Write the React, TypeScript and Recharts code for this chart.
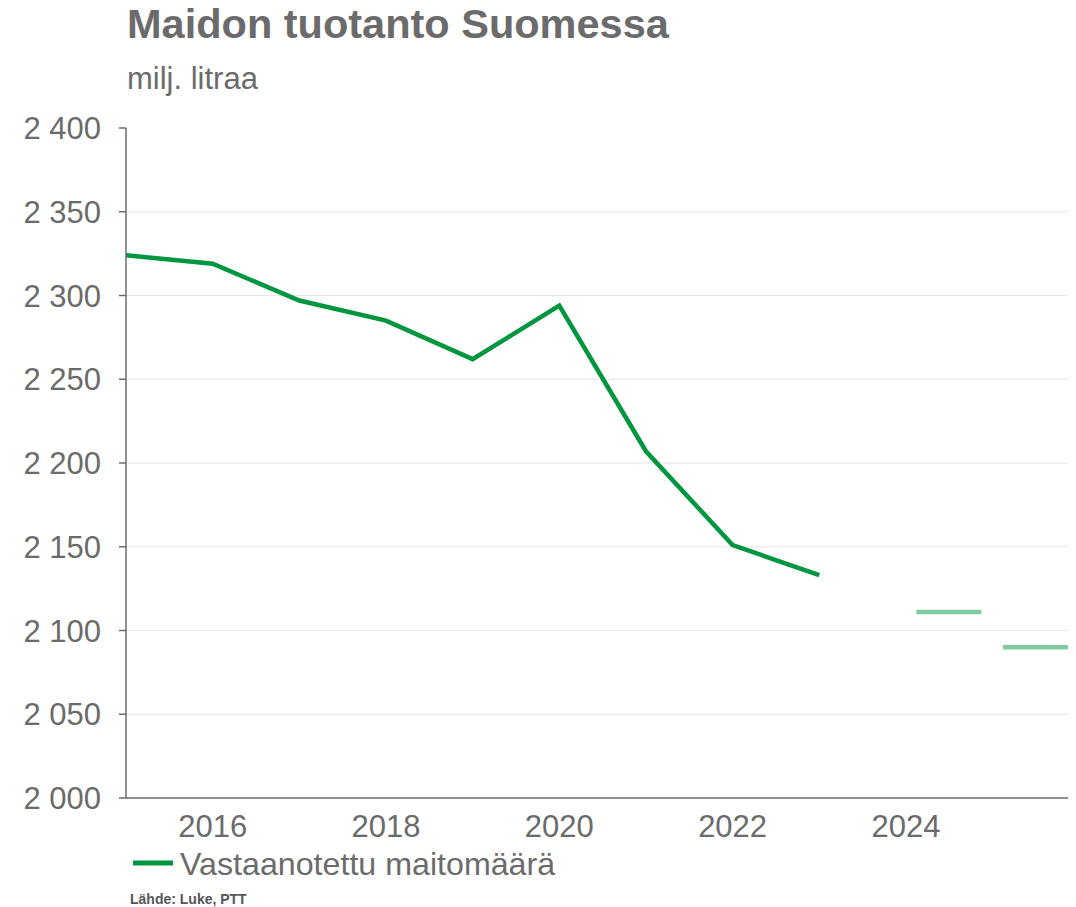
import React from "react";
import { LineChart, Line, XAxis, YAxis, CartesianGrid, ReferenceLine } from "recharts";

const years = [2015, 2016, 2017, 2018, 2019, 2020, 2021, 2022, 2023];
const milkVolume = [2324, 2319, 2297, 2285, 2262, 2294, 2207, 2151, 2133];
const forecastYears = [2024, 2025];
const forecastValues = [2111, 2090];
const xTicks = [2016, 2018, 2020, 2022, 2024];
const yTicks = [2000, 2050, 2100, 2150, 2200, 2250, 2300, 2350, 2400];
const gridValues = [2050, 2100, 2150, 2200, 2250, 2300, 2350];

const title = "Maidon tuotanto Suomessa";
const subtitle = "milj. litraa";
const seriesName = "Vastaanotettu maitomäärä";
const source = "Lähde: Luke, PTT";

const data = years.map((y, i) => ({ year: y, value: milkVolume[i] }));

const FONT = "'Liberation Sans', Arial, Helvetica, sans-serif";
const GRAY = "#6b6b6b";
const GREEN = "#00963f";
const LIGHT_GREEN = "#80caa0";

const fmt = (v: number) => `${Math.floor(v / 1000)} ${String(v % 1000).padStart(3, "0")}`;

export default function App() {
  return (
    <div style={{ position: "absolute", left: 0, top: 0, width: 1076, height: 907, background: "#fff", fontFamily: FONT }}>
      <LineChart
        width={1076}
        height={907}
        data={data}
        margin={{ top: 128, right: 8, left: 26, bottom: 69 }}
      >
        <CartesianGrid horizontal vertical={false} horizontalValues={gridValues} stroke="#e6e6e6" strokeWidth={1.2} />
        <XAxis
          dataKey="year"
          type="number"
          domain={[2015, 2025.87]}
          ticks={xTicks}
          allowDataOverflow
          height={40}
          tickSize={0}
          tickMargin={17}
          axisLine={{ stroke: GRAY, strokeWidth: 1.5 }}
          tick={{ fill: GRAY, fontSize: 31, fontFamily: FONT }}
        />
        <YAxis
          type="number"
          domain={[2000, 2400]}
          ticks={yTicks}
          width={100}
          tickSize={7}
          tickMargin={18}
          tickFormatter={fmt}
          axisLine={{ stroke: GRAY, strokeWidth: 1.5 }}
          tickLine={{ stroke: GRAY, strokeWidth: 1.5 }}
          tick={{ fill: GRAY, fontSize: 31, fontFamily: FONT }}
          interval={0}
        />
        <Line
          type="linear"
          dataKey="value"
          stroke={GREEN}
          strokeWidth={4.5}
          dot={false}
          activeDot={false}
          isAnimationActive={false}
        />
        {forecastYears.map((fy, i) => (
          <ReferenceLine
            key={fy}
            segment={[
              { x: fy + 0.12, y: forecastValues[i] },
              { x: fy + 0.87, y: forecastValues[i] },
            ]}
            stroke={LIGHT_GREEN}
            strokeWidth={4.5}
            ifOverflow="visible"
          />
        ))}
      </LineChart>
      <svg
        width={1076}
        height={907}
        style={{ position: "absolute", left: 0, top: 0, pointerEvents: "none" }}
      >
        <text x={127} y={38} fill={GRAY} fontSize={41.5} fontWeight="bold" fontFamily={FONT}>
          {title}
        </text>
        <text x={127} y={89} fill={GRAY} fontSize={31} fontFamily={FONT}>
          {subtitle}
        </text>
        <line x1={133} y1={863} x2={173} y2={863} stroke={GREEN} strokeWidth={5} />
        <text x={180} y={875} fill={GRAY} fontSize={32.2} fontFamily={FONT}>
          {seriesName}
        </text>
        <text x={130} y={904} fill="#555" fontSize={14} fontWeight="bold" fontFamily={FONT}>
          {source}
        </text>
      </svg>
    </div>
  );
}
